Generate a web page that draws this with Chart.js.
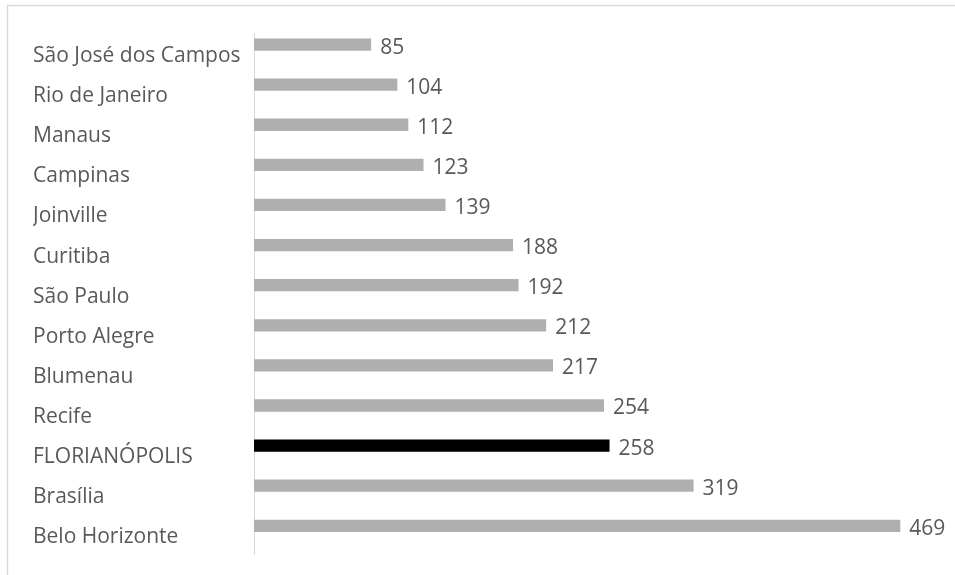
<!DOCTYPE html>
<html>
<head>
<meta charset="utf-8">
<script src="https://cdn.jsdelivr.net/npm/chart.js@4"></script>
<style>
  html, body { margin: 0; padding: 0; background: #fff; }
  canvas { display: block; }
</style>
</head>
<body>
<canvas id="cityChart" width="955" height="575"></canvas>
<script>
// Chart data
const categories = [
  "São José dos Campos", "Rio de Janeiro", "Manaus", "Campinas", "Joinville",
  "Curitiba", "São Paulo", "Porto Alegre", "Blumenau", "Recife",
  "FLORIANÓPOLIS", "Brasília", "Belo Horizonte"
];
const values = [85, 104, 112, 123, 139, 188, 192, 212, 217, 254, 258, 319, 469];
const highlighted = "FLORIANÓPOLIS";

const labelFont = { family: "'Open Sans', sans-serif", size: 21 };
const textColor = "#595959";

// light frame at top/left of the picture
const framePlugin = {
  id: "frame",
  beforeDraw(chart) {
    const ctx = chart.ctx;
    ctx.save();
    ctx.strokeStyle = "#d9d9d9";
    ctx.lineWidth = 1.5;
    ctx.beginPath();
    ctx.moveTo(7.5, chart.height);
    ctx.lineTo(7.5, 5.5);
    ctx.lineTo(chart.width, 5.5);
    ctx.stroke();
    ctx.restore();
  }
};

// value labels at the end of each bar
const valueLabels = {
  id: "valueLabels",
  afterDatasetsDraw(chart) {
    const ctx = chart.ctx;
    const meta = chart.getDatasetMeta(0);
    ctx.save();
    ctx.font = labelFont.size + "px " + labelFont.family;
    ctx.fillStyle = textColor;
    ctx.textAlign = "left";
    ctx.textBaseline = "middle";
    meta.data.forEach((bar, i) => {
      ctx.fillText(String(values[i]), bar.x + 9, bar.y + 3);
    });
    ctx.restore();
  }
};

const ctx = document.getElementById("cityChart").getContext("2d");
new Chart(ctx, {
  type: "bar",
  data: {
    labels: categories,
    datasets: [
      {
        data: values,
        backgroundColor: categories.map(c => c === highlighted ? "#000000" : "#afafaf"),
        categoryPercentage: 0.85,
        barPercentage: 0.72
      },
      {
        // empty second series, keeps the bars above the category centre
        data: categories.map(() => null),
        backgroundColor: "#afafaf",
        categoryPercentage: 0.85,
        barPercentage: 0.72
      }
    ]
  },
  options: {
    indexAxis: "y",
    responsive: false,
    animation: false,
    devicePixelRatio: 1,
    layout: { padding: { left: 33, top: 33, right: 12, bottom: 17 } },
    plugins: {
      legend: { display: false },
      tooltip: { enabled: false }
    },
    scales: {
      x: { display: false, min: 0, max: 500 },
      y: {
        grid: { display: false },
        border: { display: true, color: "#d9d9d9", width: 1 },
        ticks: { color: textColor, font: labelFont, crossAlign: "far", padding: 8, labelOffset: 3 },
        afterFit(scale) { scale.width = 221; }
      }
    }
  },
  plugins: [framePlugin, valueLabels]
});
</script>
</body>
</html>
